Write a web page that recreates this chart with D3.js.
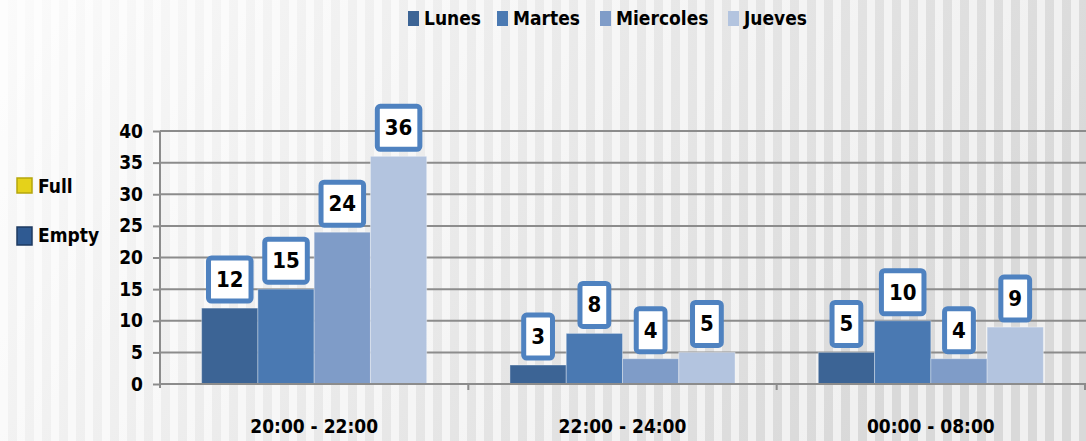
<!DOCTYPE html>
<html lang="en">
<head>
<meta charset="UTF-8">
<title>Horario por dia</title>
<script src="https://d3js.org/d3.v7.min.js"></script>
<style>
  body { margin: 0; background: #fff; }
  svg text { font-family: "Liberation Sans Narrow", "DejaVu Sans Condensed", "Open Sans", sans-serif; font-weight: bold; fill: #000; }
</style>
</head>
<body>
<div id="chart"></div>
<script>

// data
var categories = ["20:00 - 22:00", "22:00 - 24:00", "00:00 - 08:00"]
var days = ["Lunes", "Martes", "Miercoles", "Jueves"]
var lunes = [12, 3, 5]
var martes = [15, 8, 10]
var miercoles = [24, 4, 4]
var jueves = [36, 5, 9]
var yTicks = [0, 5, 10, 15, 20, 25, 30, 35, 40]
var sideLegend = ["Full", "Empty"]

var width = 1086,
    height = 441

var series = [lunes, martes, miercoles, jueves]
var color = d3.scaleOrdinal()
  .domain(days)
  .range(["#3c6495", "#4a79b2", "#7f9cc8", "#b3c4df"])

var svg = d3.select("#chart").append("svg")
  .attr("width", width)
  .attr("height", height)

// background: light stripes over a soft gray gradient
var defs = svg.append("defs")
var grad = defs.append("linearGradient").attr("id", "bg").attr("x1", 0).attr("x2", 1).attr("y1", 0).attr("y2", 0.3)
grad.append("stop").attr("offset", "0%").attr("stop-color", "#fbfbfb")
grad.append("stop").attr("offset", "45%").attr("stop-color", "#ececec")
grad.append("stop").attr("offset", "100%").attr("stop-color", "#d9d9d9")
var pat = defs.append("pattern").attr("id", "stripes").attr("width", 17).attr("height", 441)
  .attr("patternUnits", "userSpaceOnUse")
pat.append("rect").attr("x", 0).attr("width", 8).attr("height", 441).attr("fill", "#ffffff").attr("opacity", 0.6)

svg.append("rect").attr("width", width).attr("height", height).attr("fill", "url(#bg)")
svg.append("rect").attr("width", width).attr("height", height).attr("fill", "url(#stripes)")

var y = d3.scaleLinear().domain([0, 40]).range([384, 131])

var x0 = d3.scaleBand()
  .domain(categories)
  .range([160, 1085])
  .paddingInner(0.27)
  .paddingOuter(0.135)

var x1 = d3.scaleBand()
  .domain(days)
  .range([0, x0.bandwidth()])

// gridlines
svg.append("g").selectAll("line")
  .data(yTicks.filter(function(d) { return d > 0 }))
  .enter().append("line")
  .attr("x1", 160).attr("x2", 1086)
  .attr("y1", function(d) { return y(d) }).attr("y2", function(d) { return y(d) })
  .attr("stroke", "#8c8c8c").attr("stroke-width", 2)

// y axis
var yAxis = svg.append("g")
  .attr("transform", "translate(160,0)")
  .call(d3.axisLeft(y).tickValues(yTicks).tickSize(7).tickPadding(6))
yAxis.select(".domain").attr("stroke", "#8c8c8c").attr("stroke-width", 2).attr("d", "M0,131V388")
yAxis.selectAll(".tick line").attr("stroke", "#8c8c8c").attr("stroke-width", 2)
yAxis.selectAll("text").style("font-size", "19px").attr("dx", "-4")

// bars
var groups = svg.append("g").selectAll("g")
  .data(categories)
  .enter().append("g")
  .attr("transform", function(d) { return "translate(" + x0(d) + ",0)" })

groups.selectAll("rect")
  .data(function(c, i) { return days.map(function(day, j) { return { day: day, value: series[j][i] } }) })
  .enter().append("rect")
  .attr("x", function(d) { return x1(d.day) })
  .attr("width", x1.bandwidth())
  .attr("y", function(d) { return y(d.value) })
  .attr("height", function(d) { return y(0) - y(d.value) })
  .attr("fill", function(d) { return color(d.day) })
  .attr("stroke", "rgba(255,255,255,0.35)")
  .attr("stroke-width", 1)

// x axis
var xAxis = svg.append("g")
  .attr("transform", "translate(0,384)")
  .call(d3.axisBottom(x0).tickSize(0).tickPadding(36))
xAxis.select(".domain").attr("stroke", "#8c8c8c").attr("stroke-width", 2).attr("d", "M160,0H1086")
xAxis.selectAll("text").style("font-size", "19px")
// category separators
svg.append("g").selectAll("line")
  .data(categories)
  .enter().append("line")
  .attr("x1", function(d) { return x0(d) + x0.bandwidth() / 2 + x0.step() / 2 })
  .attr("x2", function(d) { return x0(d) + x0.bandwidth() / 2 + x0.step() / 2 })
  .attr("y1", 384).attr("y2", 390)
  .attr("stroke", "#8c8c8c").attr("stroke-width", 2)

// value labels in boxes
var labels = groups.selectAll("g.lab")
  .data(function(c, i) { return days.map(function(day, j) { return { day: day, value: series[j][i] } }) })
  .enter().append("g").attr("class", "lab")

labels.each(function(d) {
  var g = d3.select(this)
  var cx = x1(d.day) + x1.bandwidth() / 2
  var bottom = y(d.value) - 7
  var t = g.append("text")
    .attr("x", cx).attr("y", bottom - 14)
    .attr("text-anchor", "middle")
    .style("font-size", "22px")
    .text(d.value)
  var w = t.node().getComputedTextLength() + 15
  g.insert("rect", "text")
    .attr("x", cx - w / 2).attr("y", bottom - 43)
    .attr("width", w).attr("height", 43)
    .attr("rx", 3)
    .attr("fill", "#fff")
    .attr("stroke", "#4f82c0").attr("stroke-width", 5)
})

// top legend
var legendX = [408, 497, 600, 728]
var legend = svg.append("g").selectAll("g")
  .data(days)
  .enter().append("g")
  .attr("transform", function(d, i) { return "translate(" + legendX[i] + ",11)" })
legend.append("rect").attr("width", 11).attr("height", 15).attr("fill", function(d) { return color(d) })
legend.append("text").attr("x", 16).attr("y", 14).style("font-size", "19px").text(function(d) { return d })

// side legend
var sideColors = ["#e5d21a", "#2f5a92"]
var side = svg.append("g").selectAll("g")
  .data(sideLegend)
  .enter().append("g")
  .attr("transform", function(d, i) { return "translate(17," + (178 + i * 49) + ")" })
side.append("rect").attr("width", 15).attr("height", function(d, i) { return i ? 18 : 15 })
  .attr("fill", function(d, i) { return sideColors[i] })
  .attr("stroke", function(d, i) { return i ? "#1e3a60" : "#b5a60c" }).attr("stroke-width", 1.5)
side.append("text").attr("x", 21).attr("y", 15).style("font-size", "19px").text(function(d) { return d })

</script>
</body>
</html>
